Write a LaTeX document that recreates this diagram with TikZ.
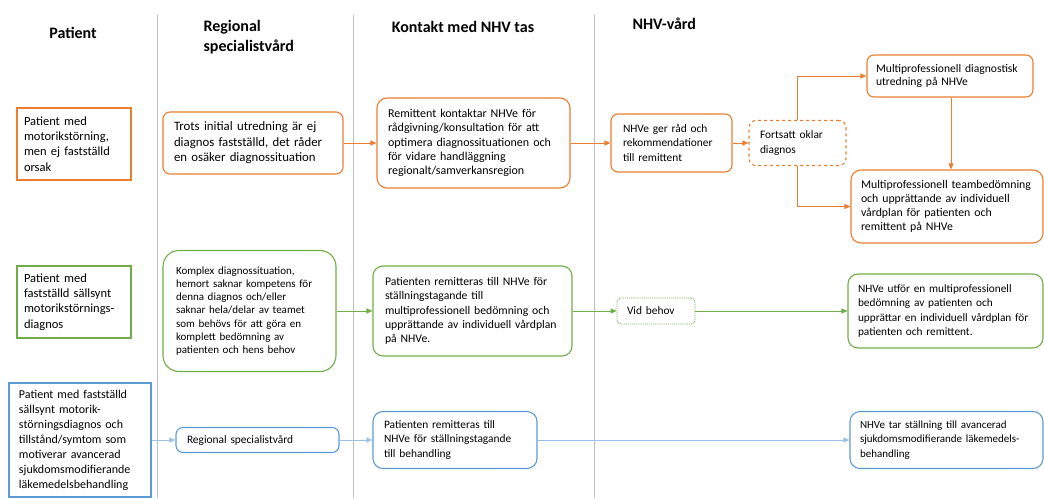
\documentclass[tikz,border=0pt]{standalone}
\usepackage{fontspec}
\setmainfont{Carlito}
\usetikzlibrary{arrows.meta}
\definecolor{nhvorange}{RGB}{237,125,49}
\definecolor{nhvgreen}{RGB}{112,173,71}
\definecolor{nhvblue}{RGB}{91,155,213}
\definecolor{nhvlightblue}{RGB}{155,194,230}
\definecolor{sepgray}{RGB}{191,191,191}
\hyphenpenalty=10000

\begin{document}
\begin{tikzpicture}[x=1pt, y=-1pt, >={Triangle[length=6pt,width=5pt]},
		font=\fontsize{11.4}{14.8}\selectfont,
		head/.style={font=\fontsize{16}{20}\selectfont\bfseries, align=left},
		pbox/.style={draw, line width=1.1pt, align=left, inner xsep=8pt, inner ysep=0pt},
		box/.style={draw, line width=1.1pt, rounded corners=7pt, align=left, inner xsep=12pt, inner ysep=0pt},
		link/.style={->, line width=0.9pt}]
		\useasboundingbox (0,0) rectangle (1044,498);
		\foreach \x in {157,353,594}{
			\draw[sepgray, line width=0.8pt] (\x,15) -- (\x,498);
		}
		\node[head] (hpat) at (73,33) {Patient};
		\node[head, anchor=west] (hreg) at (200,37) {Regional\\specialistvård};
		\node[head] (hkon) at (463,27) {Kontakt med NHV tas};
		\node[head, anchor=west] (hnhv) at (629,24) {NHV-vård};

		\node[pbox, nhvorange, minimum width=114pt, minimum height=72pt, text width=100pt, inner xsep=7pt, text=black, font=\fontsize{12.5}{15.3}\selectfont] (pat1) at (74,144) {Patient med\\motorikstörning,\\men ej fastställd\\orsak};
		\node[box, nhvorange, minimum width=180pt, minimum height=62pt, text width=158pt, inner xsep=11pt, text=black, font=\fontsize{12.8}{15.5}\selectfont] (trots) at (253,143) {Trots initial utredning är ej\\diagnos fastställd, det råder\\en osäker diagnossituation};
		\node[box, nhvorange, rounded corners=10pt, minimum width=193pt, minimum height=90pt, text width=171pt, inner xsep=11pt, text=black, font=\fontsize{12}{14.4}\selectfont] (remit) at (473.5,143) {Remittent kontaktar NHVe för\\rådgivning/konsultation för att\\optimera diagnossituationen och\\för vidare handläggning\\regionalt/samverkansregion};
		\node[box, nhvorange, minimum width=121pt, minimum height=58pt, text width=97pt, text=black] (rad) at (671.5,143) {NHVe ger råd och\\rekommendationer\\till remittent};
		\node[box, nhvorange, dashed, minimum width=97pt, minimum height=45pt, text width=75pt, inner xsep=11pt, text=black] (oklar) at (797.5,143) {Fortsatt oklar\\diagnos};
		\node[box, nhvorange, minimum width=166pt, minimum height=42pt, text width=148pt, inner xsep=9pt, text=black, font=\fontsize{11.6}{13.8}\selectfont] (diag) at (950,76) {Multiprofessionell diagnostisk\\utredning på NHVe};
		\node[box, nhvorange, rounded corners=10pt, minimum width=192pt, minimum height=73pt, text width=172pt, inner xsep=10pt, text=black, font=\fontsize{11.8}{14}\selectfont] (team) at (947,206.5) {Multiprofessionell teambedömning\\och upprättande av individuell\\vårdplan för patienten och\\remittent på NHVe};

		\draw[link, nhvorange] (trots) -- (remit);
		\draw[link, nhvorange] (remit) -- (rad);
		\draw[link, nhvorange] (rad) -- (oklar);
		\draw[link, nhvorange] (oklar.north) |- (diag.west);
		\draw[link, nhvorange] (oklar.south) |- (team.west);
		\draw[link, nhvorange] (diag.south -| 951,0) -- (team.north -| 951,0);

		\node[pbox, nhvgreen, minimum width=114pt, minimum height=72pt, text width=100pt, inner xsep=7pt, text=black, font=\fontsize{12.5}{15.2}\selectfont] (pat2) at (74,302) {Patient med\\fastställd sällsynt\\motorikstörnings-\\diagnos};
		\node[box, nhvgreen, rounded corners=16pt, minimum width=173pt, minimum height=121pt, text width=147pt, inner xsep=13pt, text=black, font=\fontsize{11}{13.3}\selectfont] (komplex) at (249.5,311) {Komplex diagnossituation,\\hemort saknar kompetens för\\denna diagnos och/eller\\saknar hela/delar av teamet\\som behövs för att göra en\\komplett bedömning av\\patienten och hens behov};
		\node[box, nhvgreen, rounded corners=10pt, minimum width=199pt, minimum height=90pt, text width=175pt, inner xsep=12pt, text=black, font=\fontsize{11.7}{14.2}\selectfont] (remit2) at (472.5,311) {Patienten remitteras till NHVe för\\ställningstagande till\\multiprofessionell bedömning och\\upprättande av individuell vårdplan\\på NHVe.};
		\node[box, nhvgreen, densely dotted, line width=0.8pt, rounded corners=4pt, minimum width=78pt, minimum height=26pt, text width=58pt, inner xsep=10pt, text=black] (vid) at (656,311) {Vid behov};
		\node[box, nhvgreen, rounded corners=10pt, minimum width=195pt, minimum height=74pt, text width=175pt, inner xsep=10pt, text=black, font=\fontsize{11.3}{14.2}\selectfont] (utfor) at (945.5,311) {NHVe utför en multiprofessionell\\bedömning av patienten och\\upprättar en individuell vårdplan för\\patienten och remittent.};

		\draw[link, nhvgreen] (komplex) -- (remit2);
		\draw[link, nhvgreen] (remit2) -- (vid);
		\draw[link, nhvgreen] (vid) -- (utfor);

		\node[pbox, nhvblue, minimum width=142pt, minimum height=114pt, text width=122pt, inner xsep=10pt, text=black, font=\fontsize{12}{15}\selectfont] (pat3) at (80,440) {Patient med fastställd\\sällsynt motorik-\\störningsdiagnos och\\tillstånd/symtom som\\motiverar avancerad\\sjukdomsmodifierande\\läkemedelsbehandling};
		\node[box, nhvblue, minimum width=163pt, minimum height=25pt, text width=141pt, inner xsep=11pt, text=black] (regspec) at (257.5,440) {Regional specialistvård};
		\node[box, nhvblue, rounded corners=10pt, minimum width=164pt, minimum height=57pt, text width=142pt, inner xsep=11pt, text=black] (remit3) at (455,440) {Patienten remitteras till\\NHVe för ställningstagande\\till behandling};
		\node[box, nhvblue, rounded corners=10pt, minimum width=193pt, minimum height=57pt, text width=173pt, inner xsep=10pt, text=black, font=\fontsize{11}{14.6}\selectfont] (tar) at (946.5,440) {NHVe tar ställning till avancerad\\sjukdomsmodifierande läkemedels-\\behandling};

		\draw[link, nhvlightblue] (pat3) -- (regspec);
		\draw[link, nhvlightblue] (regspec) -- (remit3);
		\draw[link, nhvlightblue] (remit3) -- (tar);
	\end{tikzpicture}
\end{document}
